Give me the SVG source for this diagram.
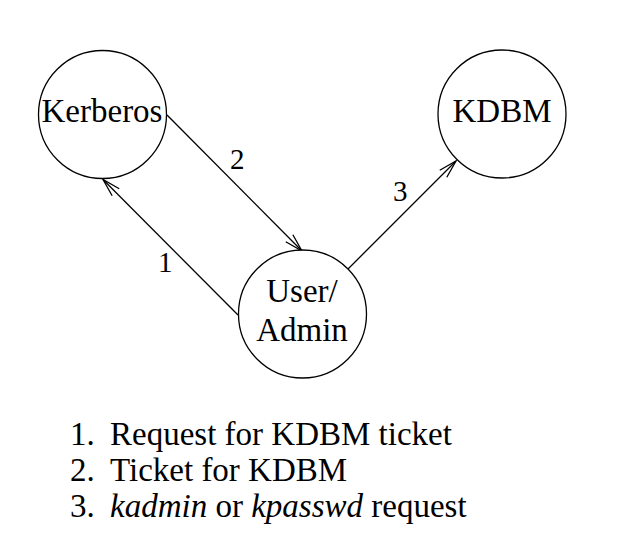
<svg xmlns="http://www.w3.org/2000/svg" width="636" height="554" viewBox="0 0 636 554">
<style>
.node{fill:#fff;stroke:#000;stroke-width:1.3}
.nt{font-size:33px;fill:#000;text-anchor:middle}
.lbl{font-size:29px;fill:#000}
.lst{font-size:33px;fill:#000}
.edge{stroke:#000;stroke-width:1.3;fill:none}
</style>
<defs>
<marker id="arr" viewBox="0 0 20 12" refX="19" refY="6" markerWidth="20" markerHeight="12" markerUnits="userSpaceOnUse" orient="auto">
<path d="M1,1 L19,6 L1,11" fill="none" stroke="#000" stroke-width="1.3"/>
</marker>
</defs>
<rect width="636" height="554" fill="#fff"/>
<g font-family="Liberation Serif, DejaVu Serif, Times New Roman, serif">
<g id="connectors">
<line class="edge" x1="238" y1="315" x2="103" y2="179.5" marker-end="url(#arr)"/>
<line class="edge" x1="167" y1="115" x2="302" y2="251" marker-end="url(#arr)"/>
<line class="edge" x1="348" y1="269" x2="456" y2="161" marker-end="url(#arr)"/>
<text class="lbl" x="230" y="169">2</text>
<text class="lbl" x="158" y="272">1</text>
<text class="lbl" x="393" y="201">3</text>
</g>
<g id="kerberos">
<circle class="node" cx="102.5" cy="114.5" r="64"/>
<text class="nt" x="102" y="122">Kerberos</text>
</g>
<g id="kdbm">
<circle class="node" cx="502" cy="114" r="64"/>
<text class="nt" x="502" y="122">KDBM</text>
</g>
<g id="user-admin">
<circle class="node" cx="302.5" cy="314" r="64"/>
<text class="nt" x="302" y="302">User/</text>
<text class="nt" x="302" y="341">Admin</text>
</g>
<g id="legend">
<text class="lst" x="70" y="445">1.</text>
<text class="lst" x="110" y="445">Request for KDBM ticket</text>
<text class="lst" x="70" y="481">2.</text>
<text class="lst" x="110" y="481">Ticket for KDBM</text>
<text class="lst" x="70" y="517">3.</text>
<text class="lst" x="110" y="517"><tspan font-style="italic">kadmin</tspan> or <tspan font-style="italic">kpasswd</tspan> request</text>
</g>
</g>
</svg>
